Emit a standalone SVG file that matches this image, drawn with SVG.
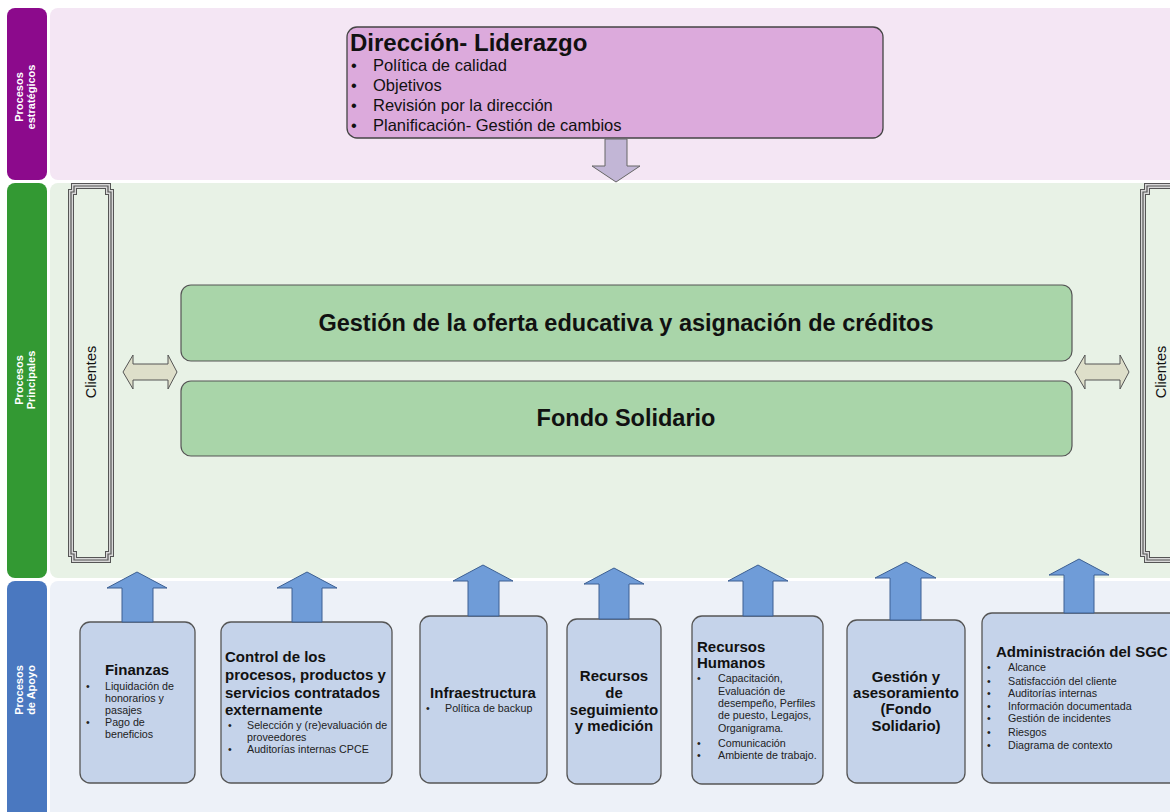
<svg xmlns="http://www.w3.org/2000/svg" width="1170" height="812" viewBox="0 0 1170 812">
<defs>
<style>
text{font-family:"Liberation Sans",Arial,sans-serif;fill:#111}
.lbl{fill:#fff;font-weight:bold;font-size:11px;text-anchor:middle}
.bx{fill:#c5d3ea;stroke:#555;stroke-width:1.3}
.up{fill:#6f9cd8;stroke:#3c5f92;stroke-width:1}
.gb{fill:#a9d5a9;stroke:#555;stroke-width:1.2}
.t15{font-size:15px;font-weight:bold}
.t11{font-size:10.7px;fill:#222}
.dbl{fill:#dedfca;stroke:#555;stroke-width:1}
.brk1{fill:none;stroke:#555;stroke-width:6}
.brk2{fill:none;stroke:#d8d8d8;stroke-width:4}
.brk3{fill:none;stroke:#555;stroke-width:1.2}
</style>
</defs>
<rect width="1170" height="812" fill="#ffffff"/>
<g id="bands">
<rect x="50" y="8" width="1130" height="172" rx="8" fill="#f4e6f4"/>
<rect x="50" y="183" width="1130" height="395" rx="8" fill="#e8f2e6"/>
<rect x="50" y="581" width="1130" height="240" rx="8" fill="#edf1f8"/>
</g>
<g id="lane-estrategicos">
<rect x="7" y="8" width="40" height="172" rx="8" fill="#8c0a8c"/>
<text class="lbl" transform="translate(27,97) rotate(-90)"><tspan x="0" y="-4">Procesos</tspan><tspan x="0" y="8">estratégicos</tspan></text>
</g>
<g id="lane-principales">
<rect x="7" y="183" width="40" height="395" rx="8" fill="#339933"/>
<text class="lbl" transform="translate(27,380) rotate(-90)"><tspan x="0" y="-4">Procesos</tspan><tspan x="0" y="8">Principales</tspan></text>
</g>
<g id="lane-apoyo">
<rect x="7" y="581" width="40" height="240" rx="8" fill="#4a78c0"/>
<text class="lbl" transform="translate(27,690) rotate(-90)"><tspan x="0" y="-4">Procesos</tspan><tspan x="0" y="8">de Apoyo</tspan></text>
</g>
<g id="direccion">
<rect x="347" y="27" width="536" height="111" rx="10" fill="#dcaadc" stroke="#444" stroke-width="1.3"/>
<text x="350" y="51" font-size="24" font-weight="bold">Dirección- Liderazgo</text>
<g font-size="16.5">
<text x="351" y="71">•</text><text x="373" y="71">Política de calidad</text>
<text x="351" y="91">•</text><text x="373" y="91">Objetivos</text>
<text x="351" y="111">•</text><text x="373" y="111">Revisión por la dirección</text>
<text x="351" y="131">•</text><text x="373" y="131">Planificación- Gestión de cambios</text>
</g>
</g>
<g id="clientes-izq">
<path class="brk1" d="M74,186 H108 V192 H111 V554 H108 V560 H74 V554 H71 V192 H74 Z"/>
<path class="brk2" d="M74,186 H108 V192 H111 V554 H108 V560 H74 V554 H71 V192 H74 Z"/>
<path class="brk3" d="M74,186 H108 V192 H111 V554 H108 V560 H74 V554 H71 V192 H74 Z" fill="#e8f2e6"/>
<text font-size="14.5" text-anchor="middle" transform="translate(96,372) rotate(-90)">Clientes</text>
</g>
<g id="clientes-der">
<path class="brk1" d="M1147,186 H1180 V560 H1147 V554 H1143 V192 H1147 Z"/>
<path class="brk2" d="M1147,186 H1180 V560 H1147 V554 H1143 V192 H1147 Z"/>
<path class="brk3" d="M1147,186 H1180 V560 H1147 V554 H1143 V192 H1147 Z" fill="#e8f2e6"/>
<text font-size="14.5" text-anchor="middle" transform="translate(1166,372) rotate(-90)">Clientes</text>
</g>
<g id="gestion-oferta">
<rect class="gb" x="181" y="285" width="891" height="76" rx="10"/>
<text x="626" y="331" font-size="23.5" font-weight="bold" text-anchor="middle">Gestión de la oferta educativa y asignación de créditos</text>
</g>
<g id="fondo-solidario">
<rect class="gb" x="181" y="381" width="891" height="75" rx="10"/>
<text x="626" y="426" font-size="23.5" font-weight="bold" text-anchor="middle">Fondo Solidario</text>
</g>
<g id="finanzas">
<rect class="bx" x="80" y="622" width="115" height="161" rx="10"/>
<text class="t15" x="137" y="675" text-anchor="middle">Finanzas</text>
<text x="86" y="690" class="t11">•</text><text x="105" y="690" class="t11">Liquidación de</text>
<text x="105" y="702" class="t11">honorarios y</text>
<text x="105" y="714" class="t11">pasajes</text>
<text x="86" y="726" class="t11">•</text><text x="105" y="726" class="t11">Pago de</text>
<text x="105" y="738" class="t11">beneficios</text>
</g>
<g id="control">
<rect class="bx" x="221" y="622" width="171" height="161" rx="10"/>
<text x="225" y="662" class="t15">Control de los</text>
<text x="225" y="680" class="t15">procesos, productos y</text>
<text x="225" y="698" class="t15">servicios contratados</text>
<text x="225" y="715" class="t15">externamente</text>
<text x="228" y="729" class="t11">•</text><text x="247" y="729" class="t11">Selección y (re)evaluación de</text>
<text x="247" y="741" class="t11">proveedores</text>
<text x="228" y="753" class="t11">•</text><text x="247" y="753" class="t11">Auditorías internas CPCE</text>
</g>
<g id="infraestructura">
<rect class="bx" x="420" y="616" width="127" height="167" rx="10"/>
<text class="t15" x="483" y="698" text-anchor="middle">Infraestructura</text>
<text x="426" y="712" class="t11">•</text><text x="445" y="712" class="t11">Política de backup</text>
</g>
<g id="seguimiento">
<rect class="bx" x="567" y="619" width="94" height="165" rx="10"/>
<text x="614" y="681" class="t15" text-anchor="middle">Recursos</text>
<text x="614" y="698" class="t15" text-anchor="middle">de</text>
<text x="614" y="715" class="t15" text-anchor="middle">seguimiento</text>
<text x="614" y="731" class="t15" text-anchor="middle">y medición</text>
</g>
<g id="rrhh">
<rect class="bx" x="692" y="616" width="131" height="168" rx="10"/>
<text x="697" y="652" class="t15">Recursos</text>
<text x="697" y="668" class="t15">Humanos</text>
<text x="697" y="682" class="t11">•</text><text x="718" y="682" class="t11">Capacitación,</text>
<text x="718" y="695" class="t11">Evaluación de</text>
<text x="718" y="707" class="t11">desempeño, Perfiles</text>
<text x="718" y="719" class="t11">de puesto, Legajos,</text>
<text x="718" y="732" class="t11">Organigrama.</text>
<text x="697" y="747" class="t11">•</text><text x="718" y="747" class="t11">Comunicación</text>
<text x="697" y="759" class="t11">•</text><text x="718" y="759" class="t11">Ambiente de trabajo.</text>
</g>
<g id="gestion-asesoramiento">
<rect class="bx" x="847" y="620" width="118" height="163" rx="10"/>
<text x="906" y="682" class="t15" text-anchor="middle">Gestión y</text>
<text x="906" y="698" class="t15" text-anchor="middle">asesoramiento</text>
<text x="906" y="714" class="t15" text-anchor="middle">(Fondo</text>
<text x="906" y="731" class="t15" text-anchor="middle">Solidario)</text>
</g>
<g id="admin-sgc">
<rect class="bx" x="982" y="613" width="200" height="170" rx="10"/>
<text x="996" y="657" class="t15">Administración del SGC</text>
<text x="987" y="671" class="t11">•</text><text x="1008" y="671" class="t11">Alcance</text>
<text x="987" y="685" class="t11">•</text><text x="1008" y="685" class="t11">Satisfacción del cliente</text>
<text x="987" y="697" class="t11">•</text><text x="1008" y="697" class="t11">Auditorías internas</text>
<text x="987" y="710" class="t11">•</text><text x="1008" y="710" class="t11">Información documentada</text>
<text x="987" y="722" class="t11">•</text><text x="1008" y="722" class="t11">Gestión de incidentes</text>
<text x="987" y="736" class="t11">•</text><text x="1008" y="736" class="t11">Riesgos</text>
<text x="987" y="749" class="t11">•</text><text x="1008" y="749" class="t11">Diagrama de contexto</text>
</g>
<g id="connectors">
<path d="M605,139 H627 V166 H640 L616,182 L592,166 H605 Z" fill="#c2b6d6" stroke="#666" stroke-width="1"/>
<path class="dbl" d="M123,372 L133,355 V364 H168 V355 L177,372 L168,389 V380 H133 V389 Z"/>
<path class="dbl" d="M1075,372 L1085,355 V364 H1120 V355 L1129,372 L1120,389 V380 H1085 V389 Z"/>
<path class="up" d="M122,622 V588 H107 L137,572 L167,588 H153 V622 Z"/>
<path class="up" d="M292,622 V588 H277 L307,572 L337,588 H322 V622 Z"/>
<path class="up" d="M468,616 V581 H453 L483,565 L513,581 H499 V616 Z"/>
<path class="up" d="M599,619 V584 H584 L614,568 L644,584 H629 V619 Z"/>
<path class="up" d="M743,616 V581 H728 L758,565 L788,581 H773 V616 Z"/>
<path class="up" d="M890,620 V578 H875 L906,562 L936,578 H921 V620 Z"/>
<path class="up" d="M1064,613 V575 H1049 L1079,559 L1109,575 H1094 V613 Z"/>
</g>
</svg>
